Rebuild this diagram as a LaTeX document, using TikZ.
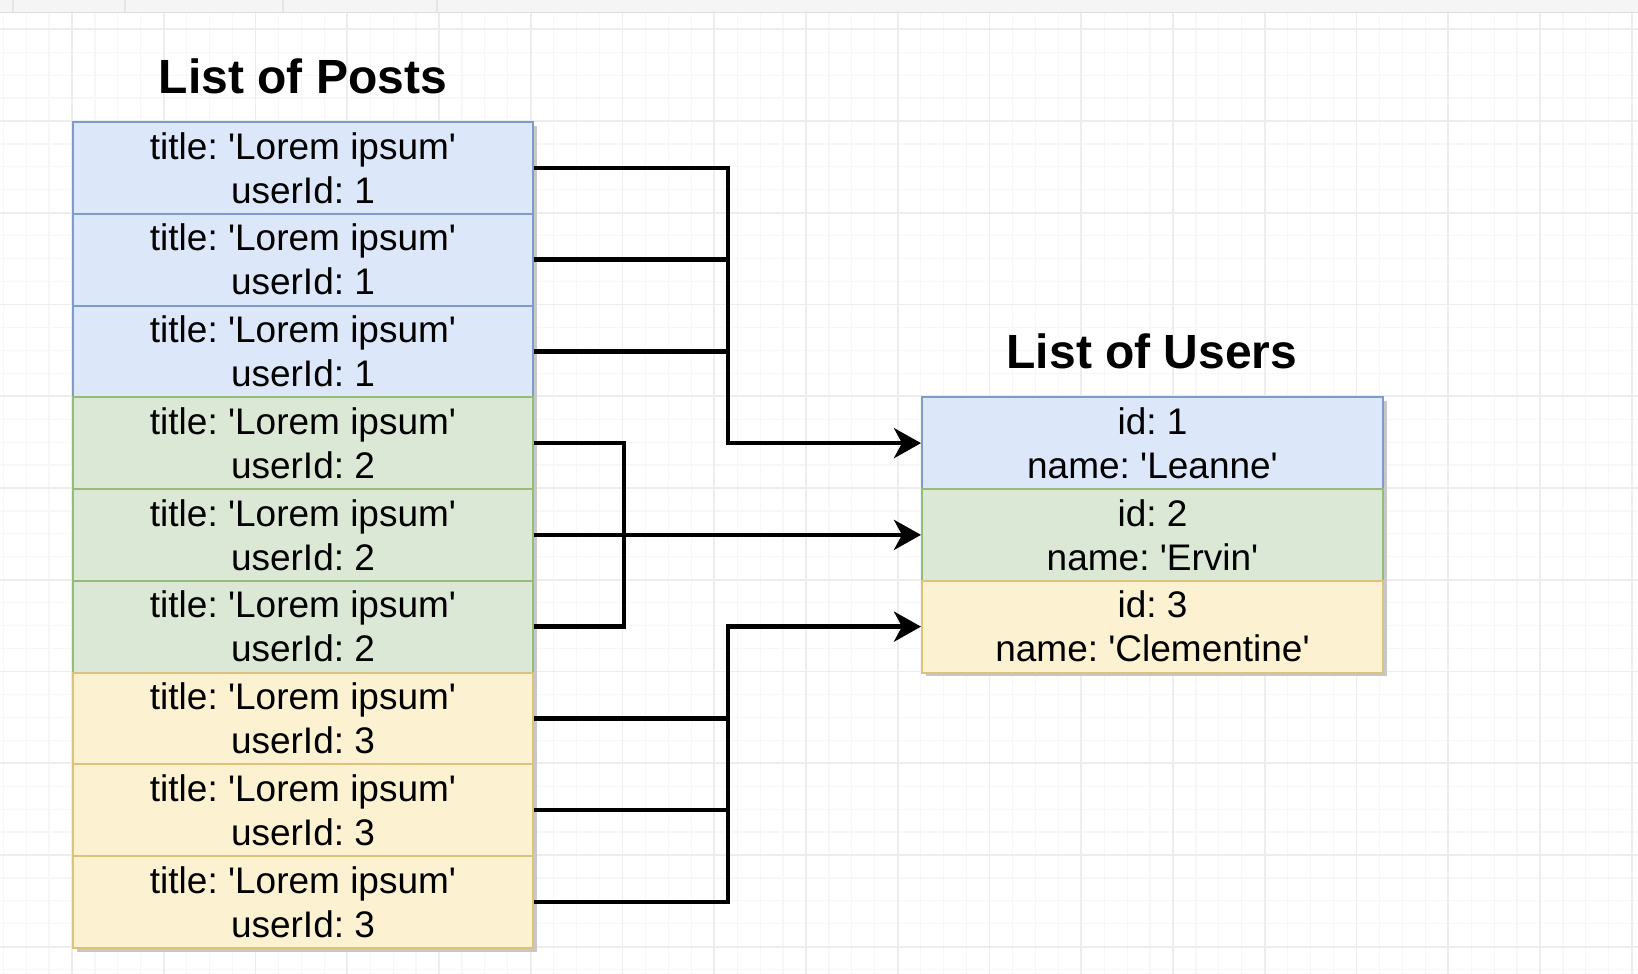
\documentclass[tikz,border=0pt]{standalone}
\usepackage{fontspec}
\setmainfont{Liberation Sans}
\usetikzlibrary{arrows.meta}
\frenchspacing
\newcommand{\sq}{\textquotesingle}
\definecolor{bluefill}{HTML}{DCE8FA}
\definecolor{bluedraw}{HTML}{7C9CCB}
\definecolor{greenfill}{HTML}{DBE8D6}
\definecolor{greendraw}{HTML}{93BC79}
\definecolor{yellowfill}{HTML}{FCF2D2}
\definecolor{yellowdraw}{HTML}{DCC27A}
\definecolor{minorc}{HTML}{F7F7F7}
\definecolor{majorc}{HTML}{EDEDED}
\definecolor{barc}{HTML}{F5F5F5}
\tikzset{
  cell/.style={rectangle, anchor=north west, minimum height=91.75pt, inner sep=0pt,
    align=center, line width=2pt, font=\fontsize{37}{44}\selectfont, text=black},
  postcell/.style={cell, minimum width=460pt},
  usercell/.style={cell, minimum width=461pt},
  bluec/.style={fill=bluefill, draw=bluedraw},
  greenc/.style={fill=greenfill, draw=greendraw},
  yellowc/.style={fill=yellowfill, draw=yellowdraw},
  heading/.style={anchor=base, font=\fontsize{48}{56}\selectfont\bfseries, inner sep=0pt},
  conn/.style={line width=4.5pt, black, line join=miter},
  arr/.style={conn, -{Stealth[length=27pt, width=30pt, inset=8pt]}},
  minorgrid/.style={draw=minorc, line width=1.2pt},
  majorgrid/.style={draw=majorc, line width=1.6pt},
  shadowc/.style={fill=black!22}
}
\begin{document}
\begin{tikzpicture}[x=1pt, y=-1pt]
\useasboundingbox (0,0) rectangle (1638,974);
\fill[white] (0,0) rectangle (1638,974);
% grid
\foreach \i in {-3,...,68} { \draw[minorgrid] ({72+22.9375*\i},13) -- ({72+22.9375*\i},974); }
\foreach \j in {-4,...,37} { \draw[minorgrid] (0,{121+22.9375*\j}) -- (1638,{121+22.9375*\j}); }
\foreach \i in {0,...,17} { \draw[majorgrid] ({72+91.75*\i},13) -- ({72+91.75*\i},974); }
\foreach \j in {-1,...,9} { \draw[majorgrid] (0,{121+91.75*\j}) -- (1638,{121+91.75*\j}); }
% top bar
\fill[barc] (0,0) rectangle (1638,12.5);
\draw[draw=black!13, line width=1.5pt] (0,12.5) -- (1638,12.5);
\foreach \x in {13,125,283,437} { \draw[draw=black!10, line width=1.2pt] (\x,0) -- (\x,12.5); }
% shadows
\fill[shadowc] (77,126) rectangle (537,952);
\fill[shadowc] (926,401) rectangle (1387,676);
% titles
\node[heading] (tposts) at (303,93) {List of Posts};
\node[heading] (tusers) at (1152,368) {List of Users};
% posts
\node[postcell, bluec] (p1) at (72,121) {title: \sq Lorem ipsum\sq\\userId: 1};
\node[postcell, bluec] (p2) at (72,212.75) {title: \sq Lorem ipsum\sq\\userId: 1};
\node[postcell, bluec] (p3) at (72,304.5) {title: \sq Lorem ipsum\sq\\userId: 1};
\node[postcell, greenc] (p4) at (72,396.25) {title: \sq Lorem ipsum\sq\\userId: 2};
\node[postcell, greenc] (p5) at (72,488) {title: \sq Lorem ipsum\sq\\userId: 2};
\node[postcell, greenc] (p6) at (72,579.75) {title: \sq Lorem ipsum\sq\\userId: 2};
\node[postcell, yellowc] (p7) at (72,671.5) {title: \sq Lorem ipsum\sq\\userId: 3};
\node[postcell, yellowc] (p8) at (72,763.25) {title: \sq Lorem ipsum\sq\\userId: 3};
\node[postcell, yellowc] (p9) at (72,855) {title: \sq Lorem ipsum\sq\\userId: 3};
% users
\node[usercell, bluec] (u1) at (921,396.25) {id: 1\\name: \sq Leanne\sq};
\node[usercell, greenc] (u2) at (921,488) {id: 2\\name: \sq Ervin\sq};
\node[usercell, yellowc] (u3) at (921,579.75) {id: 3\\name: \sq Clementine\sq};
% junction columns
\coordinate (ja) at (728,0);
\coordinate (jb) at (624,0);
% group 1
\draw[arr] (p1.east) -| (ja |- u1.west) -- (u1.west);
\draw[conn] (p2.east) -- (p2.east -| ja);
\draw[conn] (p3.east) -- (p3.east -| ja);
% group 2
\draw[conn] (p4.east) -| (jb |- p6.east) -- (p6.east);
\draw[arr] (p5.east) -- (u2.west);
% group 3
\draw[arr] (p9.east) -| (ja |- u3.west) -- (u3.west);
\draw[conn] (p7.east) -- (p7.east -| ja);
\draw[conn] (p8.east) -- (p8.east -| ja);
\end{tikzpicture}
\end{document}
